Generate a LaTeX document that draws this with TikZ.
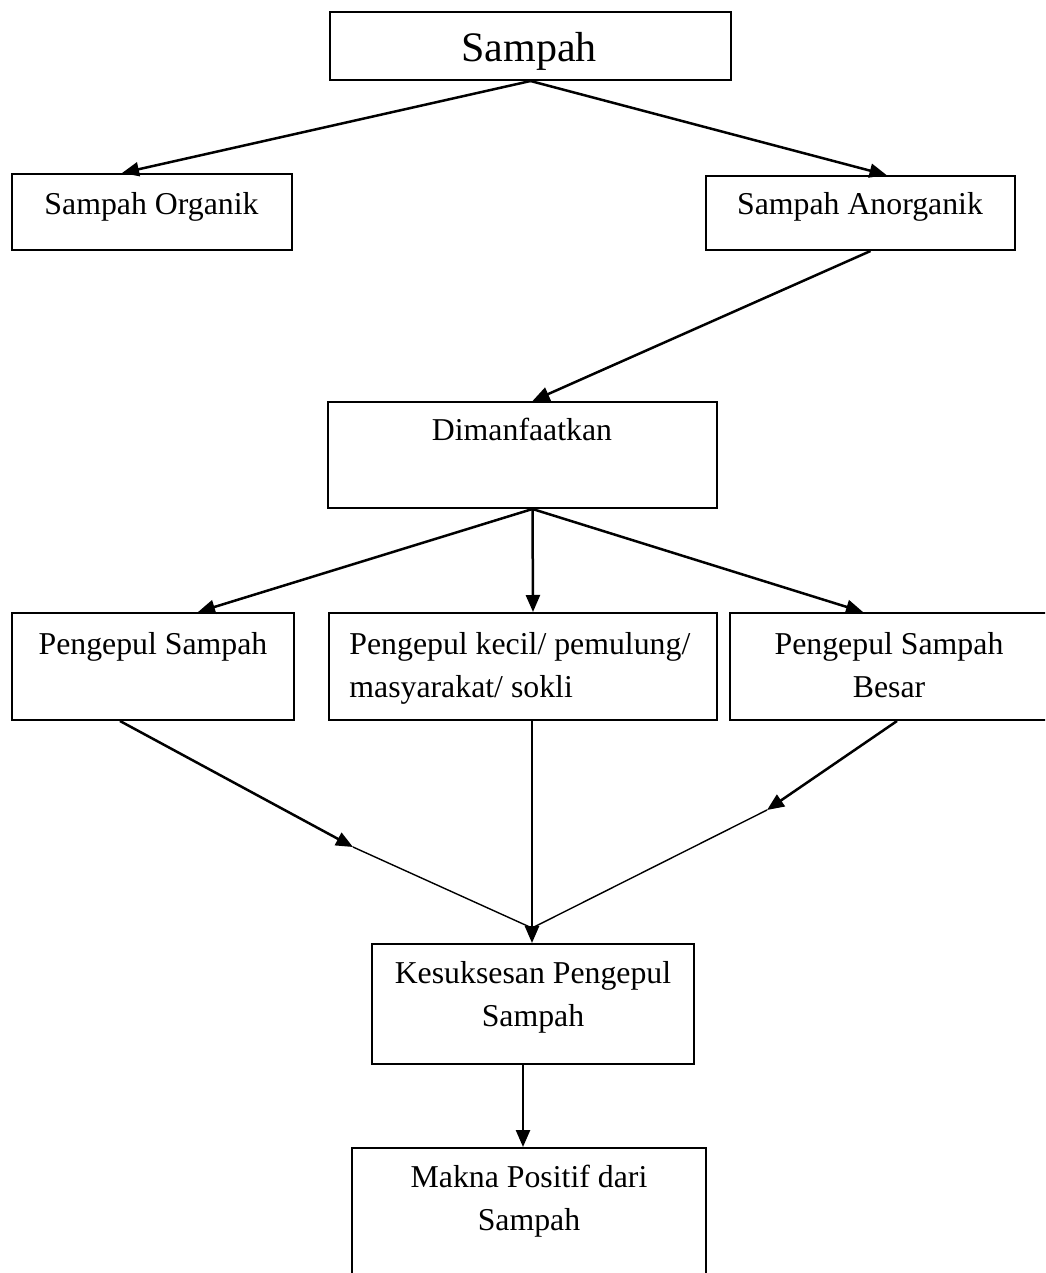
\documentclass[tikz,border=0pt]{standalone}
\usepackage{fontspec}
\setmainfont{Liberation Serif}
\usetikzlibrary{arrows.meta}

\tikzset{
  box/.style={draw, line width=1pt, inner sep=0pt},
  isi/.style={inner sep=0pt, anchor=base, align=center, font=\fontsize{15.9pt}{21.5pt}\selectfont},
  panah/.style={-{Triangle[length=8.5pt,width=7pt]}, line width=1.25pt},
  tipis/.style={line width=0.7pt}
}

\begin{document}
\begin{tikzpicture}[x=0.5pt,y=-0.5pt]
  \path[use as bounding box] (0,0) rectangle (1045,1273);
  \clip (0,0) rectangle (1045,1273);

  % Boxes
  \node[box, minimum width=200.5pt, minimum height=34pt] (sampah) at (530.5,46) {};
  \node[box, minimum width=140pt, minimum height=38pt] (organik) at (152,212) {};
  \node[box, minimum width=154.5pt, minimum height=37pt] (anorganik) at (860.5,213) {};
  \node[box, minimum width=194.5pt, minimum height=53pt] (manfaat) at (522.5,455) {};
  \node[box, minimum width=141pt, minimum height=53.5pt] (peng1) at (153,666.5) {};
  \node[box, minimum width=194pt, minimum height=53.5pt] (peng2) at (523,666.5) {};
  \node[box, minimum width=159pt, minimum height=53.5pt] (besar) at (889,666.5) {};
  \node[box, minimum width=161pt, minimum height=60pt] (sukses) at (533,1004) {};
  \node[box, minimum width=177pt, minimum height=100pt] (makna) at (529,1248) {};

  % Texts (multi-line ones sit on their last baseline)
  \node[isi, font=\fontsize{21pt}{25pt}\selectfont] (tsampah) at (529,62) {Sampah};
  \node[isi] (torganik) at (151.5,214) {Sampah Organik};
  \node[isi] (tanorganik) at (860,215) {Sampah Anorganik};
  \node[isi] (tmanfaat) at (522,440) {Dimanfaatkan};
  \node[isi] (tpeng1) at (153,654) {Pengepul Sampah};
  \node[isi, align=left, anchor=base west] (tpeng2) at (349,697) {Pengepul kecil/ pemulung/\\masyarakat/ sokli};
  \node[isi] (tbesar) at (889,697) {Pengepul Sampah\\Besar};
  \node[isi] (tsukses) at (533,1026) {Kesuksesan Pengepul\\Sampah};
  \node[isi] (tmakna) at (529,1230) {Makna Positif dari\\Sampah};

  % Arrows
  \draw[panah] (sampah.south) -- ([xshift=-15pt]organik.north);
  \draw[panah] (sampah.south) -- ([xshift=13pt]anorganik.north);
  \draw[panah] ([xshift=5pt]anorganik.south) -- ([xshift=5pt]manfaat.north);
  \draw[panah] ([xshift=5pt]manfaat.south) -- ([xshift=22.5pt]peng1.north);
  \draw[panah] ([xshift=5pt]manfaat.south) -- ([xshift=5pt]peng2.north);
  \draw[panah] ([xshift=5pt]manfaat.south) -- ([xshift=-13pt]besar.north);

  % Converging lines
  \coordinate (kiri) at (353,847);
  \coordinate (kanan) at (767,810);
  \coordinate (temu) at (532,928);
  \draw[panah] ([xshift=-16.5pt]peng1.south) -- (kiri);
  \draw[tipis] (kiri) -- (temu);
  \draw[panah] ([xshift=4pt]besar.south) -- (kanan);
  \draw[tipis] (kanan) -- (temu);
  \draw[panah] ([xshift=4.5pt]peng2.south) -- ([xshift=-0.5pt]sukses.north);

  \draw[panah] ([xshift=-5pt]sukses.south) -- ([xshift=-3pt]makna.north);
\end{tikzpicture}
\end{document}
